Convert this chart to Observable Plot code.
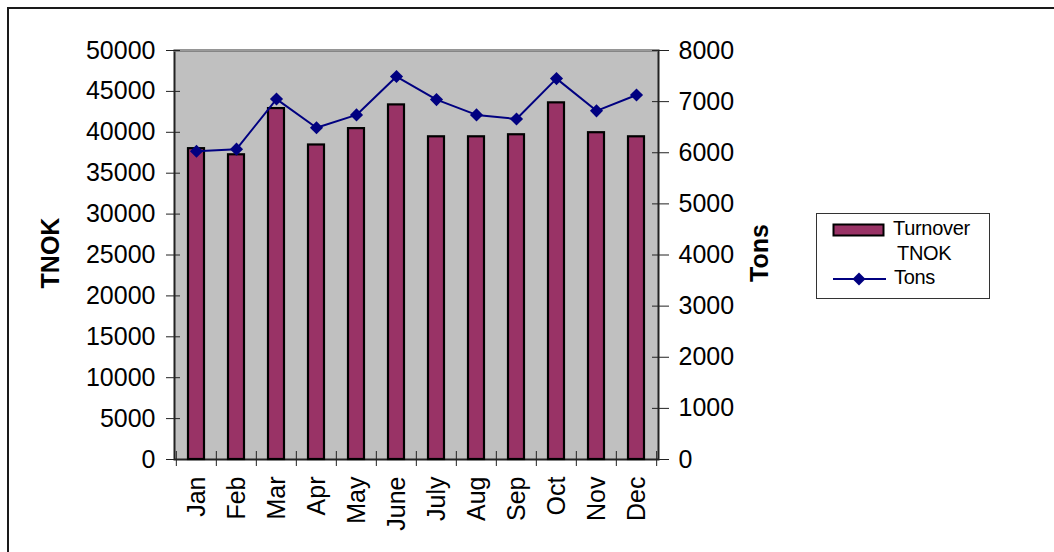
<!DOCTYPE html>
<html>
<head>
<meta charset="utf-8">
<script src="https://cdn.jsdelivr.net/npm/d3@7"></script>
<script src="https://cdn.jsdelivr.net/npm/@observablehq/plot@0.6"></script>
<style>
  html, body { margin: 0; padding: 0; background: #fff; }
  #wrap { position: relative; width: 1054px; height: 552px; overflow: hidden; font-family: "Liberation Sans", Arial, sans-serif; }
  #border { position: absolute; left: 7px; top: 7px; width: 1100px; height: 600px; border-top: 2px solid #1a1a1a; border-left: 2px solid #1a1a1a; }
  #legend { position: absolute; left: 816px; top: 213px; width: 172px; height: 84px; border: 1.5px solid #333; background: #fff; }
  #legend span { position: absolute; font-size: 20px; line-height: 17px; color: #000; letter-spacing: -0.3px; }
</style>
</head>
<body>
<div id="wrap">
  <div id="border"></div>
  <div id="chart"></div>
  <div id="legend">
    <svg width="172" height="84" style="position:absolute;left:0;top:0">
      <rect x="16.5" y="10.5" width="50" height="11" fill="#993366" stroke="#000" stroke-width="2"></rect>
      <line x1="16" y1="65" x2="69" y2="65" stroke="#000080" stroke-width="2"></line>
      <path d="M42,58.5L48.5,65L42,71.5L35.5,65Z" fill="#000080"></path>
    </svg>
    <span style="left:76px;top:6px">Turnover</span>
    <span style="left:80px;top:31px">TNOK</span>
    <span style="left:77px;top:55px">Tons</span>
  </div>
</div>
<script>
const months = ["Jan", "Feb", "Mar", "Apr", "May", "June", "July", "Aug", "Sep", "Oct", "Nov", "Dec"];
const turnoverTNOK = [38000, 37250, 42900, 38450, 40450, 43350, 39450, 39450, 39700, 43600, 39950, 39450];
const tons = [6030, 6070, 7050, 6490, 6740, 7490, 7040, 6740, 6660, 7450, 6820, 7130];
const leftTicks = [0, 5000, 10000, 15000, 20000, 25000, 30000, 35000, 40000, 45000, 50000];
const rightTicks = [0, 1000, 2000, 3000, 4000, 5000, 6000, 7000, 8000];
const leftMax = 50000;
const rightMax = 8000;

const k = leftMax / rightMax;
const data = months.map((m, i) => ({month: m, turnover: turnoverTNOK[i], tons: tons[i]}));

const W = 1054, H = 552;
const mL = 174, mR = 396, mT = 50, mB = 93;
const step = (W - mL - mR) / months.length;
const fs = 25;

const chart = Plot.plot({
  width: W,
  height: H,
  marginLeft: mL,
  marginRight: mR,
  marginTop: mT,
  marginBottom: mB,
  style: {fontFamily: '"Liberation Sans", Arial, sans-serif', fontSize: fs + "px", color: "#000", background: "transparent", overflow: "visible"},
  x: {domain: months, paddingInner: 0.6, paddingOuter: 0.3, label: null},
  y: {domain: [0, leftMax], label: null},
  marks: [
    Plot.frame({fill: "#c0c0c0", stroke: "#222", strokeWidth: 2}),
    Plot.ruleY([leftMax], {stroke: "#9a9a9a", strokeWidth: 2}),
    Plot.barY(data, {x: "month", y: "turnover", fill: "#993366", stroke: "#000", strokeWidth: 2.2}),
    Plot.line(data, {x: "month", y: d => d.tons * k, stroke: "#000080", strokeWidth: 2}),
    Plot.dot(data, {x: "month", y: d => d.tons * k, symbol: "diamond2", r: 5.9, fill: "#000080"}),
    // left axis
    Plot.axisY({ticks: leftTicks, tickSize: 14, dx: 6, fill: "none", stroke: "#222", label: null}),
    Plot.axisY({ticks: leftTicks, tickSize: 0, tickPadding: 19, tickFormat: "d", label: null, fontSize: fs}),
    // right axis
    Plot.axisY({anchor: "right", ticks: rightTicks.map(v => v * k), tickSize: 17, dx: -7, fill: "none", stroke: "#222", label: null}),
    Plot.axisY({anchor: "right", ticks: rightTicks.map(v => v * k), tickSize: 0, tickPadding: 20, tickFormat: d => String(Math.round(d / k)), label: null, fontSize: fs}),
    // x axis ticks at category boundaries
    Plot.axisX({tickSize: 15, dy: -8, dx: -step / 2, fill: "none", stroke: "#222", label: null}),
    Plot.axisX({ticks: [months[months.length - 1]], tickSize: 15, dy: -8, dx: step / 2, fill: "none", stroke: "#222", label: null}),
    Plot.axisX({tickSize: 0, tickPadding: 17, tickRotate: -90, label: null, fontSize: fs}),
    // axis titles
    Plot.text(["TNOK"], {frameAnchor: "left", textAnchor: "middle", dx: -124, dy: -2, rotate: -90, fontWeight: "bold", fontSize: 25}),
    Plot.text(["Tons"], {frameAnchor: "right", textAnchor: "middle", dx: 101, dy: -2, rotate: -90, fontWeight: "bold", fontSize: 25})
  ]
});
chart.style.position = "absolute";
chart.style.left = "0px";
chart.style.top = "0px";
document.getElementById("chart").appendChild(chart);
</script>
</body>
</html>
